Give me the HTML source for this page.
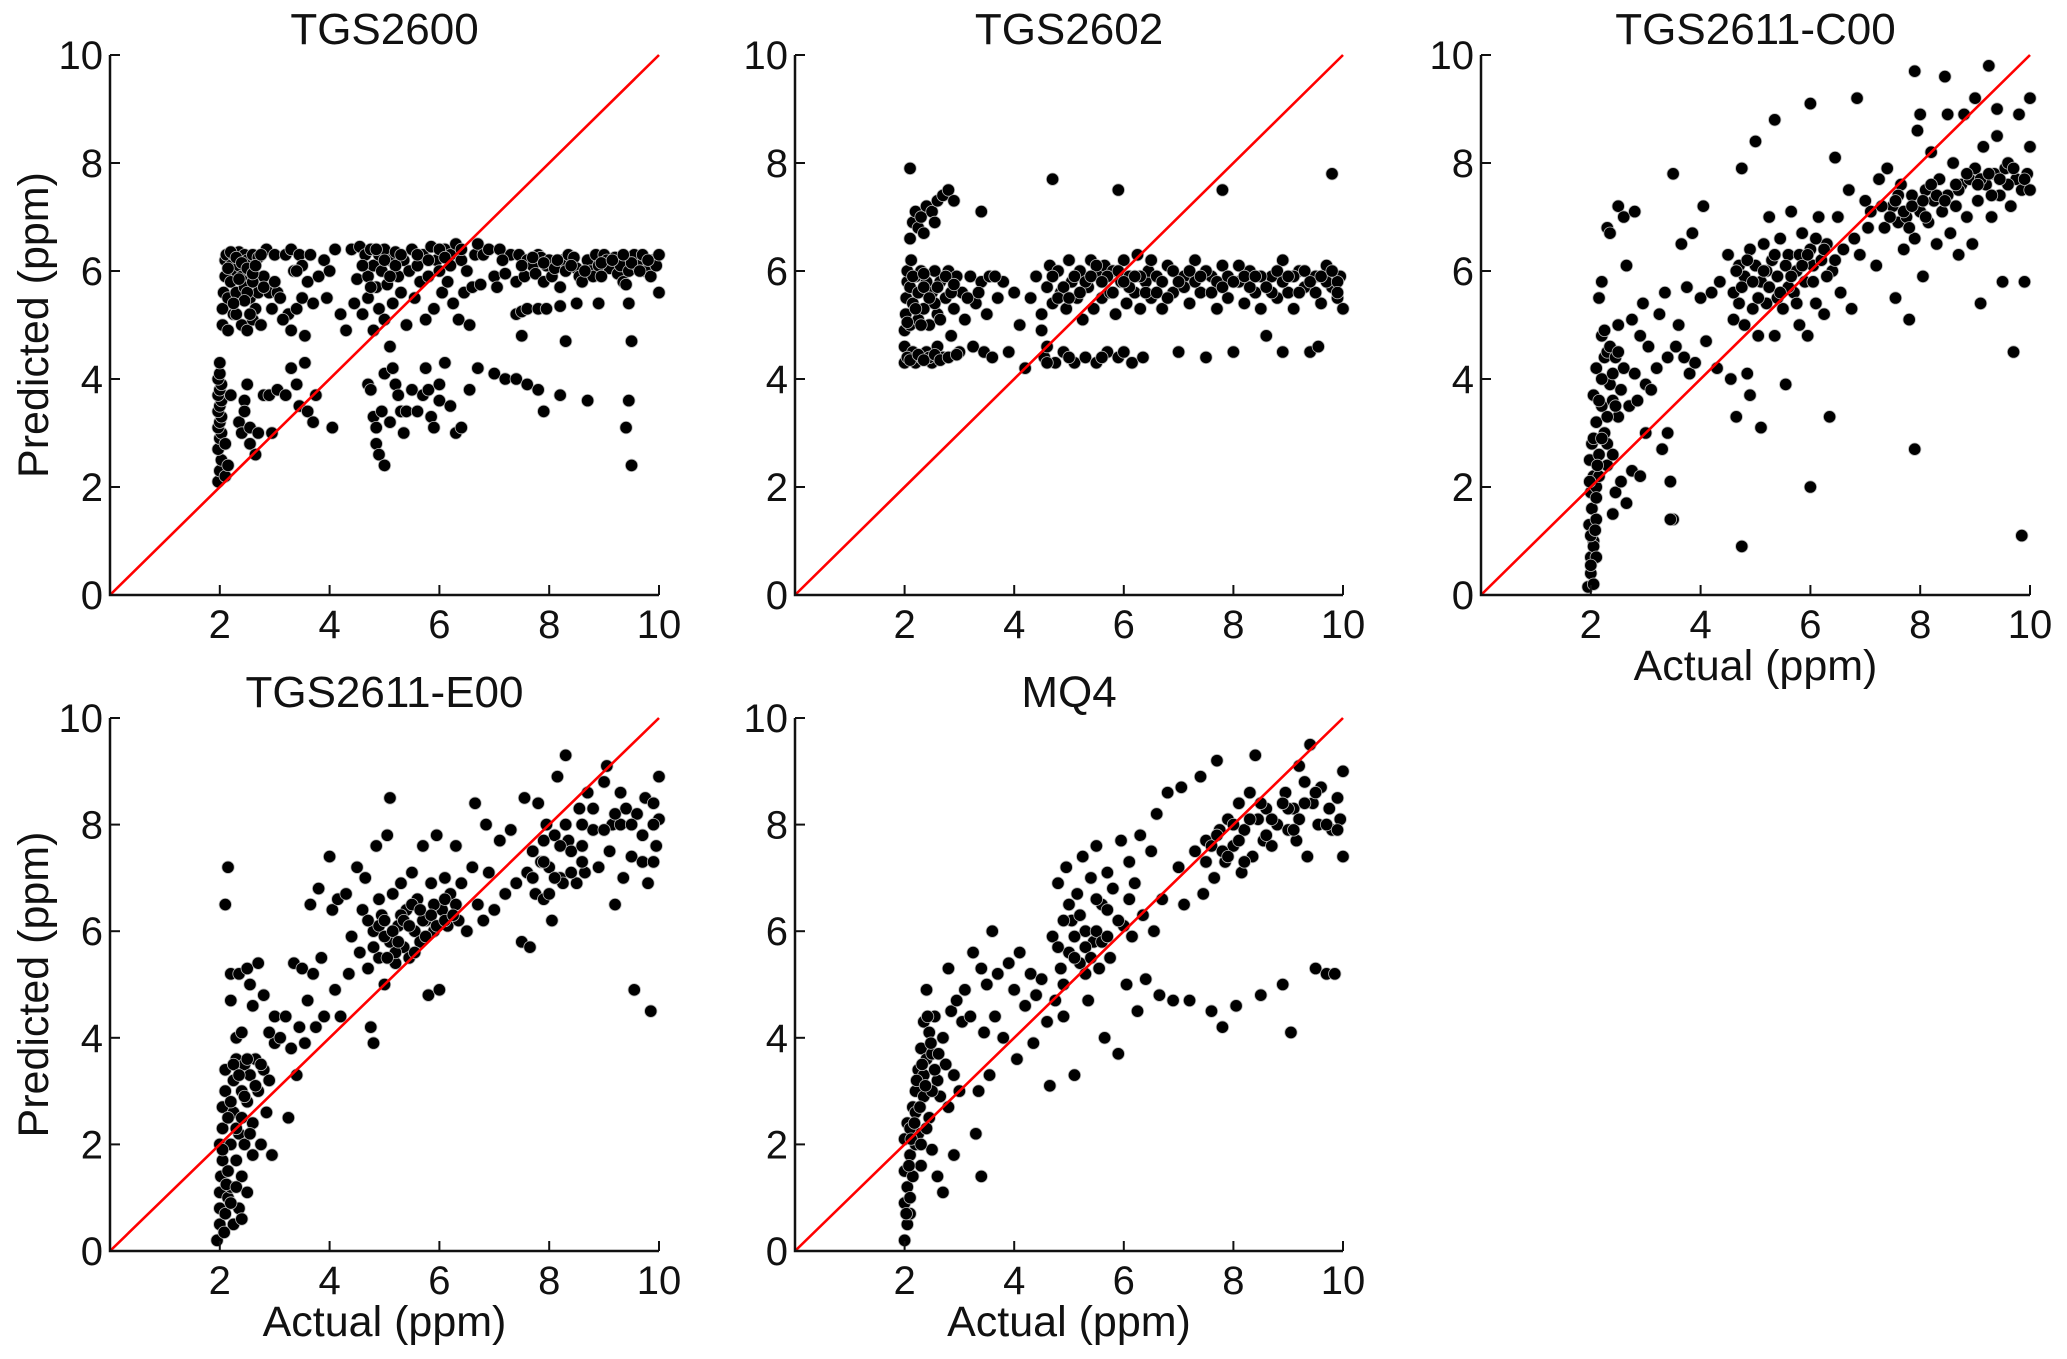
<!DOCTYPE html>
<html><head><meta charset="utf-8"><style>
html,body{margin:0;padding:0;background:#fff;}
svg text{font-family:"Liberation Sans",Arial,sans-serif;fill:#111;}
</style></head><body>
<svg id="chart" width="2067" height="1354" viewBox="0 0 2067 1354" xmlns="http://www.w3.org/2000/svg"></svg>
<script>
const xTicks = [2, 4, 6, 8, 10];
const yTicks = [0, 2, 4, 6, 8, 10];
const titles = ["TGS2600", "TGS2602", "TGS2611-C00", "TGS2611-E00", "MQ4"];

const tgs2600 = [1.97,2.1, 2.0,2.3, 2.03,2.5, 1.97,2.7, 2.0,2.9, 2.03,3.0, 1.97,3.1, 2.0,3.2, 2.03,3.3, 1.97,3.4, 2.0,3.5, 2.03,3.6, 1.97,3.7, 2.0,3.8, 2.03,3.9, 1.97,4.0, 2.0,4.1, 2.0,4.3, 2.1,2.2, 2.15,2.4, 2.1,2.8, 2.2,3.7,
2.35,3.2, 2.4,3.0, 2.45,3.6, 2.5,3.9, 2.45,3.4, 2.55,3.1, 2.55,2.8, 2.65,2.6, 2.7,3.0, 2.8,3.7, 2.9,3.7, 2.95,3.0, 3.05,3.8, 3.2,3.7, 3.3,4.2, 3.4,3.9, 3.45,3.5, 3.55,4.3, 3.6,3.4, 3.7,3.2, 3.75,3.7, 4.05,3.1, 4.7,3.9, 4.75,3.8, 4.8,3.3, 4.85,3.1, 4.85,2.8, 4.9,2.6, 4.95,3.4, 5.0,4.1, 5.0,2.4, 5.1,3.2, 5.15,4.2, 5.2,3.9, 5.25,3.7, 5.3,3.4, 5.35,3.0, 5.4,3.4, 5.5,3.8, 5.6,3.4, 5.7,3.7, 5.75,4.2, 5.8,3.8, 5.85,3.3, 5.9,3.1, 6.0,3.9, 6.0,3.6, 6.1,4.3, 6.2,3.5, 6.3,3.0, 6.4,3.1, 6.55,3.8, 6.7,4.2, 7.0,4.1, 7.2,4.0, 7.4,4.0, 7.6,3.9, 7.8,3.8, 7.9,3.4, 8.2,3.7, 8.7,3.6, 9.4,3.1, 9.45,3.6, 9.5,2.4, 9.5,4.7, 9.45,5.4, 8.3,4.7, 7.5,4.8, 5.1,4.6,
7.4,5.2, 7.5,5.25, 7.6,5.3, 7.8,5.3, 7.95,5.3, 8.2,5.35, 8.5,5.4, 8.9,5.4,
2.05,5.0, 2.05,5.3, 2.07,5.6, 2.1,5.9, 2.1,6.2, 2.12,6.3, 2.15,5.5, 2.2,6.1, 2.2,5.8, 2.25,6.3, 2.25,5.2, 2.3,6.0, 2.3,5.6, 2.35,6.35, 2.35,6.1, 2.4,5.9, 2.4,5.0, 2.45,6.3, 2.45,5.7, 2.5,6.2, 2.5,4.9, 2.55,6.0, 2.55,5.5, 2.6,6.3, 2.6,5.1, 2.65,5.3, 2.7,6.25, 2.7,5.6, 2.75,5.0, 2.8,5.9, 2.85,6.4, 2.9,5.6, 2.95,5.3, 3.0,6.3, 3.05,5.6, 3.1,5.5, 3.2,6.3, 3.25,5.2, 3.3,6.4, 3.3,4.9, 3.35,6.0, 3.4,5.3, 3.45,6.3, 3.5,5.5, 3.5,6.1, 3.55,4.8, 3.6,5.8, 3.65,6.3, 3.7,5.4, 3.8,5.9, 3.9,6.2, 3.95,5.5, 4.0,6.0, 4.1,6.4, 4.3,4.9, 4.4,6.4, 4.45,5.4, 4.5,5.85, 4.55,6.45, 4.6,5.2, 4.65,6.3, 4.7,5.9, 4.7,5.5, 4.75,6.4, 4.8,6.1, 4.8,4.9, 4.85,5.7, 4.9,6.3, 4.9,5.3, 4.95,6.0, 5.0,5.1, 5.0,6.4, 5.05,5.75, 5.1,6.2, 5.15,5.4, 5.2,6.35, 5.25,5.9, 5.3,5.6, 5.35,6.2, 5.4,5.0, 5.45,6.0, 5.5,6.4, 5.55,5.5, 5.6,6.1, 5.65,5.8, 5.7,6.3, 5.75,5.1, 5.8,5.9, 5.85,6.45, 5.9,5.3, 5.95,6.2, 6.0,6.0, 6.05,5.6, 6.1,6.4, 6.15,5.8, 6.2,6.3, 6.25,5.4, 6.3,6.5, 6.35,5.1, 6.4,6.2, 6.45,5.6, 6.5,6.0, 6.55,5.0, 6.6,5.7, 6.65,6.3, 6.7,6.5, 6.75,5.75, 6.8,6.3, 6.9,6.4, 7.0,5.9, 7.05,5.7, 7.1,6.4, 7.2,5.95, 7.3,6.3, 7.4,5.8, 7.45,6.3, 7.55,5.9, 7.6,6.2, 7.7,6.1, 7.75,5.95, 7.8,6.3, 7.85,6.25, 7.9,5.8, 7.95,6.1, 8.0,6.2, 8.05,5.9, 8.1,6.05, 8.2,5.7, 8.25,6.2, 8.3,6.0, 8.35,6.3, 8.45,6.25, 8.5,6.05, 8.55,5.9, 8.6,5.8, 8.7,6.2, 8.75,6.0, 8.8,5.9, 8.85,6.3, 8.9,6.1, 9.0,6.3, 9.05,6.2, 9.1,6.05, 9.2,6.25, 9.25,5.95, 9.3,6.1, 9.35,5.8, 9.4,5.75, 9.45,6.0, 9.55,6.3, 9.6,6.1, 9.7,6.3, 9.75,6.0, 9.85,5.9, 9.9,6.2, 9.95,6.1, 10.0,5.6, 10.0,6.3, 2.15,4.9, 2.3,5.2, 2.5,5.6, 2.6,5.8, 2.8,5.7, 3.0,5.8, 3.15,5.1, 3.4,6.0, 4.2,5.2,
2.2,6.35, 2.3,6.25, 2.4,6.15, 2.5,6.05, 2.6,5.95, 2.35,5.85, 2.15,6.05, 2.45,5.45, 2.65,6.1, 2.75,6.3, 2.55,5.2, 2.25,5.4, 4.6,6.1, 4.75,5.7, 4.85,6.4, 5.0,6.2, 5.2,6.1, 5.3,6.3, 5.1,5.9, 5.6,6.3, 5.8,6.2, 6.0,6.4, 6.2,6.1, 6.4,6.4, 6.1,6.25, 7.15,6.2, 7.5,6.1, 7.7,6.25, 7.9,6.15, 8.15,6.2, 8.4,6.1, 8.65,6.0, 8.95,6.15, 9.15,6.2, 9.5,6.15, 9.8,6.2, 9.65,6.0, 8.95,5.9, 9.35,6.3];

const tgs2602 = [2.0,4.3, 2.0,4.6, 2.0,4.9, 2.02,5.2, 2.03,5.5, 2.05,5.8, 2.05,6.0, 2.08,4.4, 2.1,5.0, 2.1,5.7, 2.12,6.2, 2.15,4.5, 2.15,5.4, 2.2,5.9, 2.2,4.3, 2.25,5.1, 2.25,5.6, 2.3,4.4, 2.3,6.0, 2.35,5.3, 2.4,4.5, 2.4,5.8, 2.45,5.0, 2.5,4.3, 2.5,5.6, 2.55,6.0, 2.6,4.6, 2.6,5.2, 2.65,5.8, 2.7,4.4, 2.75,5.5, 2.8,6.0, 2.85,4.8, 2.9,5.3, 2.95,5.9, 3.0,4.5, 3.05,5.6, 3.1,5.1, 3.2,5.9, 3.25,4.6, 3.3,5.4, 3.4,5.8, 3.45,4.5, 3.5,5.2, 3.55,5.9, 3.6,4.4, 3.7,5.5, 3.8,5.8, 3.9,4.5, 4.0,5.6, 4.1,5.0, 4.2,4.2, 4.3,5.5, 4.4,5.9, 4.5,5.2, 4.55,4.4, 4.6,5.7, 4.65,6.1, 4.7,5.4, 4.75,4.3, 4.8,6.0, 4.85,5.6, 4.9,4.5, 4.95,5.3, 5.0,6.2, 5.05,5.8, 5.1,4.3, 5.15,5.5, 5.2,6.0, 5.25,5.1, 5.3,4.4, 5.35,5.7, 5.4,6.2, 5.45,5.3, 5.5,4.3, 5.55,5.9, 5.6,5.5, 5.65,6.1, 5.7,4.5, 5.75,5.6, 5.8,6.0, 5.85,5.2, 5.9,4.4, 5.95,5.8, 6.0,6.2, 6.05,5.4, 6.1,5.9, 6.15,4.3, 6.2,5.6, 6.25,6.3, 6.3,5.3, 6.35,4.4, 6.4,5.8, 6.45,6.0, 6.5,5.5, 6.6,5.9, 6.7,5.3, 6.8,6.1, 6.9,5.6, 7.0,4.5, 7.1,5.9, 7.2,5.4, 7.3,6.2, 7.4,5.6, 7.5,4.4, 7.6,5.9, 7.7,5.3, 7.8,6.1, 7.9,5.5, 8.0,4.5, 8.1,5.8, 8.2,5.4, 8.3,6.0, 8.4,5.6, 8.5,5.3, 8.6,4.8, 8.7,5.9, 8.8,5.5, 8.9,6.2, 9.0,5.6, 9.1,5.3, 9.2,6.0, 9.3,5.7, 9.4,4.5, 9.5,5.9, 9.55,4.6, 9.6,5.4, 9.7,6.1, 9.8,5.7, 9.9,5.5, 9.95,5.9, 10.0,5.3,
2.1,6.6, 2.15,6.9, 2.2,7.1, 2.25,6.8, 2.3,7.0, 2.4,7.2, 2.5,7.1, 2.6,7.3, 2.7,7.4, 2.8,7.5, 2.9,7.3, 2.35,6.7, 2.55,6.9,
2.1,7.9, 3.4,7.1, 4.7,7.7, 5.9,7.5, 7.8,7.5, 9.8,7.8, 8.9,4.5, 4.5,4.9, 4.6,4.6,
4.7,5.9, 4.9,5.7, 5.1,5.9, 5.3,5.8, 5.5,6.1, 5.7,5.9, 5.9,6.0, 6.1,5.7, 6.3,5.9, 6.5,6.2, 6.7,5.8, 6.9,6.0, 7.1,5.7, 7.3,5.8, 7.5,6.0, 7.7,5.8, 7.9,5.9, 8.1,6.1, 8.3,5.7, 8.5,5.9, 8.7,5.6, 8.9,5.8, 9.1,5.9, 9.3,6.0, 9.5,5.6, 9.7,5.8, 9.9,5.8, 2.15,5.9, 2.35,5.7, 2.55,5.4, 2.75,5.9, 2.45,4.4, 2.05,4.4,
2.1,4.35, 2.25,4.45, 2.35,4.35, 2.55,4.45, 2.65,4.35, 2.8,4.4, 2.95,4.45, 2.2,5.3, 2.3,5.0, 2.45,5.5, 2.65,5.1, 2.85,5.6, 2.05,5.05, 2.35,5.95, 2.6,5.7, 2.9,5.75, 3.15,5.5, 3.35,5.6, 3.65,5.9, 4.8,5.5, 5.0,5.5, 5.2,5.6, 5.4,5.9, 5.6,5.8, 5.8,5.6, 6.0,5.8, 6.2,5.9, 6.4,5.6, 6.6,5.6, 6.8,5.5, 7.0,5.8, 7.2,6.0, 7.4,5.9, 7.6,5.6, 7.8,5.7, 8.0,5.8, 8.2,5.9, 8.4,5.9, 8.6,5.7, 8.8,6.0, 9.0,5.9, 9.2,5.6, 9.4,5.8, 9.6,5.9, 9.8,6.0, 9.9,5.6, 5.0,4.4, 5.6,4.4, 6.0,4.5, 4.6,4.3];

const tgs2611c = [1.95,0.15, 2.0,0.4, 2.05,0.2, 2.0,0.7, 2.05,1.0, 1.97,1.3, 2.02,1.6, 2.0,1.9, 2.05,2.2, 1.98,2.5, 2.02,2.8, 2.05,0.9, 2.1,0.7, 2.1,1.4, 2.1,2.0, 2.15,2.6, 2.1,3.2, 2.05,3.7, 2.1,4.2, 2.15,5.5, 2.2,5.8, 2.2,4.8, 2.25,4.4, 2.2,3.5, 2.25,3.0, 2.3,2.4, 2.3,4.5, 2.3,6.8, 2.35,6.7, 2.35,3.9, 2.4,3.6, 2.4,1.5, 2.45,1.9, 2.45,4.4, 2.5,7.2, 2.5,5.0, 2.5,3.3, 2.55,3.8, 2.55,2.1, 2.6,7.0, 2.6,4.2, 2.65,6.1, 2.65,1.7, 2.7,3.5, 2.75,5.1, 2.75,2.3, 2.8,7.1, 2.8,4.1, 2.85,3.6, 2.9,4.8, 2.9,2.2, 2.95,5.4, 3.0,3.9, 3.0,3.0, 3.05,4.6, 3.1,3.8, 3.2,4.2, 3.25,5.2, 3.3,2.7, 3.35,5.6, 3.4,4.4, 3.4,3.0, 3.45,2.1, 3.5,1.4, 3.5,7.8, 3.55,4.6, 3.6,5.0, 3.65,6.5, 3.7,4.4, 3.75,5.7, 3.8,4.1, 3.85,6.7, 3.9,4.3, 4.0,5.5, 4.05,7.2, 4.1,4.7, 4.2,5.6, 4.3,4.2, 4.35,5.8, 4.5,6.3, 4.55,4.0, 4.6,5.1, 4.65,3.3, 4.7,5.4, 4.75,7.9, 4.8,5.9, 4.85,4.1, 4.9,6.4, 4.9,3.7, 4.95,5.3, 5.0,8.4, 5.0,6.1, 5.05,4.8, 5.1,5.8, 5.1,3.1, 5.15,6.5, 5.2,5.4, 5.25,7.0, 5.3,6.2, 5.35,8.8, 5.35,4.8, 5.4,5.9, 5.45,6.6, 5.5,5.3, 5.55,3.9, 5.6,6.3, 5.65,7.1, 5.7,5.6, 5.75,6.0, 5.8,5.0, 5.85,6.7, 5.9,5.8, 5.95,4.8, 6.0,6.4, 6.0,9.1, 6.05,6.1, 6.1,5.4, 6.15,7.0, 6.2,6.2, 6.25,5.2, 6.3,6.5, 6.35,3.3, 6.4,6.0, 6.45,8.1, 6.5,7.0, 6.55,5.6, 6.6,6.4, 6.7,7.5, 6.75,5.3, 6.8,6.6, 6.85,9.2, 6.9,6.3, 7.0,7.3, 7.05,6.8, 7.1,7.1, 7.2,6.1, 7.25,7.7, 7.35,6.8, 7.4,7.9, 7.5,7.2, 7.55,5.5, 7.6,6.9, 7.65,7.6, 7.7,6.4, 7.75,7.0, 7.8,5.1, 7.85,7.4, 7.9,9.7, 7.9,6.6, 7.95,8.6, 8.0,7.1, 8.05,5.9, 8.1,7.5, 8.15,6.9, 8.2,8.2, 8.25,7.3, 8.3,6.5, 8.35,7.7, 8.4,7.1, 8.45,9.6, 8.5,7.4, 8.55,6.7, 8.6,8.0, 8.65,7.2, 8.7,6.3, 8.75,7.6, 8.8,8.9, 8.85,7.0, 8.9,7.7, 8.95,6.5, 9.0,7.9, 9.05,7.3, 9.1,5.4, 9.15,8.3, 9.2,7.6, 9.25,9.8, 9.3,7.0, 9.35,7.8, 9.4,8.5, 9.45,7.4, 9.5,5.8, 9.55,7.9, 9.6,8.0, 9.65,7.2, 9.7,4.5, 9.75,7.7, 9.8,8.9, 9.85,7.5, 9.9,5.8, 9.95,7.8, 10.0,8.3, 10.0,7.5, 9.85,1.1, 7.9,2.7, 6.0,2.0, 4.75,0.9, 3.45,1.4, 2.0,1.1, 2.1,1.8, 2.15,2.2, 2.05,2.9, 4.6,5.6, 4.7,6.1, 4.8,5.0, 5.2,6.0, 5.4,5.5, 5.6,5.7, 5.8,6.3, 6.1,6.6, 6.3,5.9, 7.3,7.2, 7.6,7.4, 7.8,6.8, 8.1,7.0, 8.3,7.4, 8.7,7.5, 9.1,7.7, 9.6,7.6, 9.3,7.4, 10.0,9.2, 9.4,9.0, 9.0,9.2, 8.0,8.9, 8.5,8.9,
2.0,0.55, 2.08,1.2, 1.98,2.1, 2.12,2.4, 2.15,3.6, 2.2,4.0, 2.25,4.9, 2.3,3.3, 2.35,4.6, 2.4,4.1, 2.45,3.5, 2.5,4.5, 2.3,2.8, 2.2,2.9, 2.4,2.6, 4.65,6.0, 4.75,5.7, 4.85,6.2, 4.95,5.8, 5.05,5.5, 5.15,6.0, 5.25,5.7, 5.35,6.3, 5.45,5.6, 5.55,6.1, 5.65,5.9, 5.75,5.4, 5.85,6.1, 5.95,6.3, 6.05,5.8, 6.25,6.4, 6.45,6.2, 7.45,7.0, 7.55,7.3, 7.7,7.1, 7.85,7.2, 8.05,7.3, 8.2,7.6, 8.45,7.3, 8.65,7.6, 8.85,7.8, 9.05,7.6, 9.25,7.8, 9.45,7.7, 9.7,7.9, 9.9,7.7];

const tgs2611e = [1.95,0.2, 2.0,0.5, 2.0,0.8, 2.0,1.1, 2.02,1.4, 2.05,1.7, 2.0,2.0, 2.05,2.3, 2.05,2.7, 2.1,3.0, 2.1,3.4, 2.1,0.7, 2.15,1.0, 2.15,1.5, 2.2,2.0, 2.2,1.2, 2.25,0.5, 2.25,2.6, 2.25,3.2, 2.3,3.6, 2.3,1.7, 2.35,0.8, 2.35,2.2, 2.4,3.0, 2.4,1.4, 2.45,3.5, 2.45,2.0, 2.5,2.8, 2.5,1.1, 2.55,3.3, 2.6,2.4, 2.6,1.8, 2.65,3.6, 2.7,3.0, 2.75,2.0, 2.8,3.4, 2.85,2.6, 2.9,3.2, 2.95,1.8, 3.0,3.9, 2.1,6.5, 2.15,7.2, 2.2,5.2, 2.2,4.7, 2.3,4.0, 2.35,5.2, 2.4,4.1, 2.5,5.3, 2.55,5.0, 2.6,4.6, 2.7,5.4, 2.8,4.8, 2.9,4.1, 3.0,4.4, 3.1,4.0, 3.2,4.4, 3.25,2.5, 3.3,3.8, 3.35,5.4, 3.4,3.3, 3.45,4.2, 3.5,5.3, 3.55,3.9, 3.6,4.7, 3.65,6.5, 3.7,5.2, 3.75,4.2, 3.8,6.8, 3.85,5.5, 3.9,4.4, 4.0,7.4, 4.05,6.4, 4.1,4.9, 4.15,6.6, 4.2,4.4, 4.3,6.7, 4.35,5.2, 4.4,5.9, 4.5,7.2, 4.55,5.6, 4.6,6.4, 4.65,7.0, 4.7,5.3, 4.75,4.2, 4.8,3.9, 4.8,6.0, 4.85,7.6, 4.9,5.5, 4.95,6.3, 5.0,5.0, 5.05,7.8, 5.1,5.8, 5.1,8.5, 5.15,6.7, 5.2,5.4, 5.25,6.1, 5.3,6.9, 5.35,5.7, 5.4,6.4, 5.45,5.5, 5.5,7.1, 5.55,6.0, 5.6,6.6, 5.65,5.8, 5.7,7.6, 5.75,6.2, 5.8,4.8, 5.85,6.9, 5.9,6.0, 5.95,7.8, 6.0,4.9, 6.05,6.4, 6.1,7.0, 6.15,6.1, 6.2,6.7, 6.3,7.6, 6.35,6.2, 6.4,6.9, 6.5,6.0, 6.6,7.2, 6.65,8.4, 6.7,6.5, 6.8,6.2, 6.85,8.0, 6.9,7.1, 7.0,6.4, 7.1,7.7, 7.2,6.7, 7.3,7.9, 7.4,6.9, 7.5,5.8, 7.55,8.5, 7.6,7.1, 7.65,5.7, 7.7,7.5, 7.75,6.7, 7.8,8.4, 7.85,7.3, 7.9,6.6, 7.95,8.0, 8.0,7.2, 8.05,6.2, 8.1,7.8, 8.15,8.9, 8.2,7.0, 8.25,6.9, 8.3,9.3, 8.35,7.7, 8.4,7.5, 8.5,6.9, 8.55,8.3, 8.6,7.6, 8.65,7.1, 8.7,8.6, 8.8,7.9, 8.9,7.2, 9.0,8.8, 9.05,9.1, 9.1,7.5, 9.15,8.0, 9.2,6.5, 9.3,8.6, 9.35,7.0, 9.4,8.3, 9.5,7.4, 9.55,4.9, 9.6,8.2, 9.7,7.3, 9.75,8.5, 9.8,6.9, 9.85,4.5, 9.9,8.4, 9.95,7.6, 10.0,8.9, 10.0,8.1, 4.9,6.1, 5.0,5.9, 5.2,5.6, 5.3,6.3, 5.5,6.5, 5.7,6.2, 5.9,6.5, 6.1,6.6, 6.3,6.5, 7.9,7.7, 8.1,7.0, 8.3,8.0, 8.6,8.0, 9.3,8.0, 9.9,8.0,
2.08,0.35, 2.12,1.25, 2.05,1.9, 2.15,2.5, 2.2,2.8, 2.25,3.5, 2.3,2.3, 2.35,3.3, 2.4,2.5, 2.45,2.9, 2.5,3.6, 2.55,2.2, 2.3,1.2, 2.4,0.6, 2.2,0.9, 2.65,3.1, 2.75,3.5, 4.7,6.2, 4.8,5.7, 4.9,6.6, 5.0,6.2, 5.05,5.5, 5.15,6.0, 5.25,5.8, 5.35,6.2, 5.45,6.1, 5.55,5.6, 5.65,6.4, 5.75,5.9, 5.85,6.3, 5.95,6.1, 6.1,6.2, 6.25,6.3, 7.7,7.0, 7.9,7.3, 8.0,6.7, 8.2,7.6, 8.4,7.1, 8.6,7.3, 8.8,8.3, 9.0,7.9, 9.2,8.2, 9.5,8.0, 9.7,7.8, 9.9,7.3];

const mq4 = [2.0,0.2, 2.05,0.5, 2.0,0.9, 2.05,1.2, 2.0,1.5, 2.1,1.8, 2.0,2.1, 2.05,2.4, 2.1,0.7, 2.1,1.0, 2.15,1.4, 2.15,2.7, 2.2,3.0, 2.2,2.0, 2.25,3.4, 2.25,2.2, 2.3,3.8, 2.3,1.6, 2.35,4.3, 2.35,2.9, 2.4,4.9, 2.4,3.6, 2.45,4.1, 2.45,2.5, 2.5,3.7, 2.5,1.9, 2.55,4.4, 2.6,3.2, 2.6,1.4, 2.65,2.9, 2.7,4.0, 2.7,1.1, 2.75,3.5, 2.8,5.3, 2.8,2.7, 2.85,4.5, 2.9,3.3, 2.9,1.8, 2.95,4.7, 3.0,3.0, 3.05,4.3, 3.1,4.9, 3.2,4.4, 3.25,5.6, 3.3,2.2, 3.35,3.0, 3.4,1.4, 3.4,5.3, 3.45,4.1, 3.5,5.0, 3.55,3.3, 3.6,6.0, 3.65,4.4, 3.7,5.2, 3.8,4.0, 3.9,5.4, 4.0,4.9, 4.05,3.6, 4.1,5.6, 4.2,4.6, 4.3,5.2, 4.35,3.9, 4.4,4.8, 4.5,5.1, 4.6,4.3, 4.65,3.1, 4.7,5.9, 4.75,4.7, 4.8,6.9, 4.85,5.3, 4.9,4.4, 4.95,7.2, 5.0,5.6, 5.05,6.2, 5.1,3.3, 5.15,6.7, 5.2,5.4, 5.25,7.4, 5.3,6.0, 5.35,4.7, 5.4,7.0, 5.45,5.8, 5.5,7.6, 5.55,5.3, 5.6,6.5, 5.65,4.0, 5.7,7.1, 5.75,5.5, 5.8,6.8, 5.9,3.7, 5.95,7.7, 6.0,6.1, 6.05,5.0, 6.1,7.3, 6.15,5.9, 6.2,6.9, 6.25,4.5, 6.3,7.8, 6.35,6.3, 6.4,5.1, 6.5,7.5, 6.55,6.0, 6.6,8.2, 6.65,4.8, 6.7,6.6, 6.8,8.6, 6.9,4.7, 7.0,7.2, 7.05,8.7, 7.1,6.5, 7.2,4.7, 7.3,7.5, 7.4,8.9, 7.45,6.7, 7.5,7.7, 7.6,4.5, 7.65,7.0, 7.7,9.2, 7.75,7.9, 7.8,4.2, 7.85,7.3, 7.9,8.1, 8.0,7.6, 8.05,4.6, 8.1,8.4, 8.15,7.1, 8.2,7.9, 8.3,8.6, 8.35,7.4, 8.4,9.3, 8.45,8.1, 8.5,4.8, 8.55,7.7, 8.6,8.3, 8.7,7.6, 8.8,8.0, 8.9,5.0, 8.95,8.6, 9.0,7.9, 9.05,4.1, 9.1,8.3, 9.15,7.7, 9.2,9.1, 9.3,8.8, 9.35,7.4, 9.4,9.5, 9.45,8.4, 9.5,5.3, 9.55,8.0, 9.6,8.7, 9.7,5.2, 9.75,8.3, 9.8,7.9, 9.85,5.2, 9.9,8.5, 9.95,8.1, 10.0,7.4, 10.0,9.0, 4.9,5.0, 5.1,5.5, 5.3,5.2, 5.5,6.0, 5.7,6.4, 5.9,6.2, 6.1,6.6, 7.6,7.6, 7.8,7.5, 8.0,8.0, 8.2,7.3, 8.6,7.8, 9.0,8.3, 9.2,8.1, 2.1,2.3, 2.2,2.6, 2.35,3.3, 2.5,3.0,
2.03,0.7, 2.08,1.6, 2.12,2.1, 2.18,2.4, 2.22,3.2, 2.28,2.7, 2.32,3.5, 2.38,3.1, 2.42,4.4, 2.48,3.9, 2.55,3.4, 2.62,3.7, 2.3,2.0, 2.4,2.3, 4.8,5.7, 4.9,6.2, 5.0,6.5, 5.1,5.9, 5.2,6.3, 5.3,5.7, 5.4,5.5, 5.5,6.6, 5.6,5.8, 5.7,5.9, 7.5,7.3, 7.7,7.8, 7.9,7.4, 8.1,7.7, 8.3,8.1, 8.5,8.4, 8.7,8.1, 8.9,8.4, 9.1,7.9, 9.3,8.4, 9.5,8.6, 9.7,8.0, 9.9,7.9];

const series = [tgs2600, tgs2602, tgs2611c, tgs2611e, mq4];

const NS = "http://www.w3.org/2000/svg";
const svg = document.getElementById("chart");
const layout = [
  {l:110, r:659, t:55, b:595, yl:true, xl:false},
  {l:795, r:1343, t:55, b:595, yl:false, xl:false},
  {l:1481, r:2030, t:55, b:595, yl:false, xl:true},
  {l:110, r:659, t:718, b:1251, yl:true, xl:true},
  {l:795, r:1343, t:718, b:1251, yl:false, xl:true}
];
const keys = ["tgs2600","tgs2602","tgs2611-c00","tgs2611-e00","mq4"];
function mk(tag, attrs, parent){
  const e = document.createElementNS(NS, tag);
  for (const k in attrs) e.setAttribute(k, attrs[k]);
  parent.appendChild(e);
  return e;
}
layout.forEach((p, i) => {
  const sx = v => p.l + (p.r - p.l) * v / 10;
  const sy = v => p.b - (p.b - p.t) * v / 10;
  const g = mk("g", {}, svg);
  
  
  const title = mk("text", {x:(p.l+p.r)/2, y:p.t-11, "text-anchor":"middle", "font-size":44}, g);
  title.textContent = titles[i];
  
  
  const pts = mk("g", {}, g);
  
  
  const d = series[i];
  for (let j = 0; j < d.length; j += 2) {
    const c = mk("circle", {cx:sx(d[j]), cy:sy(d[j+1]), r:6.2, fill:"#000", stroke:"#bbb", "stroke-width":0.8}, pts);
    
    
  }
  const ref = mk("line", {x1:sx(0), y1:sy(0), x2:sx(10), y2:sy(10), stroke:"#f00", "stroke-width":2.6}, g);
  
  
  const ax = mk("path", {d:`M${p.l},${p.t}V${p.b}H${p.r}`, fill:"none", stroke:"#111", "stroke-width":2.5}, g);
  
  
  xTicks.forEach(v => {
    const t = mk("line", {x1:sx(v), x2:sx(v), y1:p.b, y2:p.b-10, stroke:"#111", "stroke-width":2}, g);
    
    
    const lb = mk("text", {x:sx(v), y:p.b+43, "text-anchor":"middle", "font-size":40}, g);
    lb.textContent = v;
    
    
  });
  yTicks.forEach(v => {
    const t = mk("line", {x1:p.l, x2:p.l+10, y1:sy(v), y2:sy(v), stroke:"#111", "stroke-width":2}, g);
    
    
    const lb = mk("text", {x:p.l-7, y:sy(v)+14, "text-anchor":"end", "font-size":40}, g);
    lb.textContent = v;
    
    
  });
  if (p.xl) {
    const xt = mk("text", {x:(p.l+p.r)/2, y:p.b+85, "text-anchor":"middle", "font-size":43}, g);
    xt.textContent = "Actual (ppm)";
    
    
  }
  if (p.yl) {
    const cy = (p.t+p.b)/2;
    const yt = mk("text", {x:48, y:cy, "text-anchor":"middle", "font-size":43, transform:`rotate(-90,48,${cy})`}, g);
    yt.textContent = "Predicted (ppm)";
    
    
  }
});
</script>
</body></html>
